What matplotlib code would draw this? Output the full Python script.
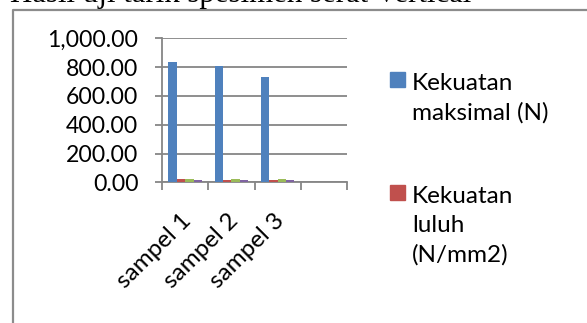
import numpy as np
import matplotlib
matplotlib.use("Agg")
from matplotlib import pyplot as plt
from matplotlib.patches import Rectangle
from matplotlib.lines import Line2D
from matplotlib.transforms import ScaledTranslation

# hasil uji tarik, serat vertikal
categories = ["sampel 1", "sampel 2", "sampel 3"]
kekuatan_maksimal = [834, 807, 729]
kekuatan_luluh = [20, 15, 15]
seri_3 = [20, 22, 22]
seri_4 = [13, 13, 13]
series = [kekuatan_maksimal, kekuatan_luluh, seri_3, seri_4]
legend_labels = [["Kekuatan", "maksimal (N)"], ["Kekuatan", "luluh", "(N/mm2)"]]
colors = ["#4F81BD", "#C0504D", "#9BBB59", "#8064A2"]
title = "Hasil uji tarik spesimen serat Vertical"

W, H = 587, 323
fig = plt.figure(figsize=(W / 100, H / 100), dpi=100)
plt.rcParams['font.family'] = ['Lato', 'DejaVu Sans']
grey = "#868686"

def fx(px):
    return px / W

def fy(py):
    return 1 - py / H

# page frame and the caption line above the chart (runs off the top)
fig.add_artist(Line2D([fx(13), fx(13), fx(W)], [0, fy(10), fy(10)],
                      color="#8c8c8c", lw=1.6, transform=fig.transFigure))
fig.text(fx(10), fy(2), title, family="Liberation Serif", fontsize=22.2,
         va="baseline", ha="left")

ax = fig.add_axes([fx(162), fy(182.3), fx(185), (182.3 - 38.3) / H])
n_cat = 4
x = np.arange(len(categories))
bw = 0.182
for i, (vals, c) in enumerate(zip(series, colors)):
    ax.bar(x + (i - 1.5) * bw, vals, width=bw, color=c, zorder=3)

ax.set_xlim(-0.5, n_cat - 0.5)
ax.set_ylim(0, 1000)
ax.set_yticks(np.arange(0, 1001, 200))
ax.yaxis.set_major_formatter(lambda v, p: f"{v:,.2f}")
ax.grid(axis="y", color=grey, lw=1.3, zorder=0)
ax.tick_params(axis="y", length=5, width=1.3, color=grey, pad=12,
               labelsize=16.6)

ax.set_xticks(np.arange(-0.5, n_cat, 1.0), minor=True)
ax.set_xticks(x)
ax.set_xticklabels(categories, rotation=45, ha="right", va="center",
                   rotation_mode="anchor", fontsize=17.5)
ax.tick_params(axis="x", which="major", length=0, pad=25)
ax.tick_params(axis="x", which="minor", length=6, width=1.3, color=grey)
shift = ScaledTranslation(3 / 100, 0, fig.dpi_scale_trans)
for lab in ax.get_xticklabels():
    lab.set_transform(lab.get_transform() + shift)

for s in ["top", "right"]:
    ax.spines[s].set_visible(False)
for s in ["left", "bottom"]:
    ax.spines[s].set_color(grey)
    ax.spines[s].set_linewidth(1.3)

# legend: only the first two series fit
entry_tops = [72, 185]
line_step = 29.5
for top, lines, c in zip(entry_tops, legend_labels, colors):
    fig.add_artist(Rectangle((fx(390), fy(top + 14.5)), fx(14.5), 14.5 / H,
                             color=c, transform=fig.transFigure))
    for k, t in enumerate(lines):
        fig.text(fx(412), fy(top + 18 + k * line_step), t, fontsize=17.5,
                 va="baseline", ha="left")

fig.savefig("out.png", dpi=100)
